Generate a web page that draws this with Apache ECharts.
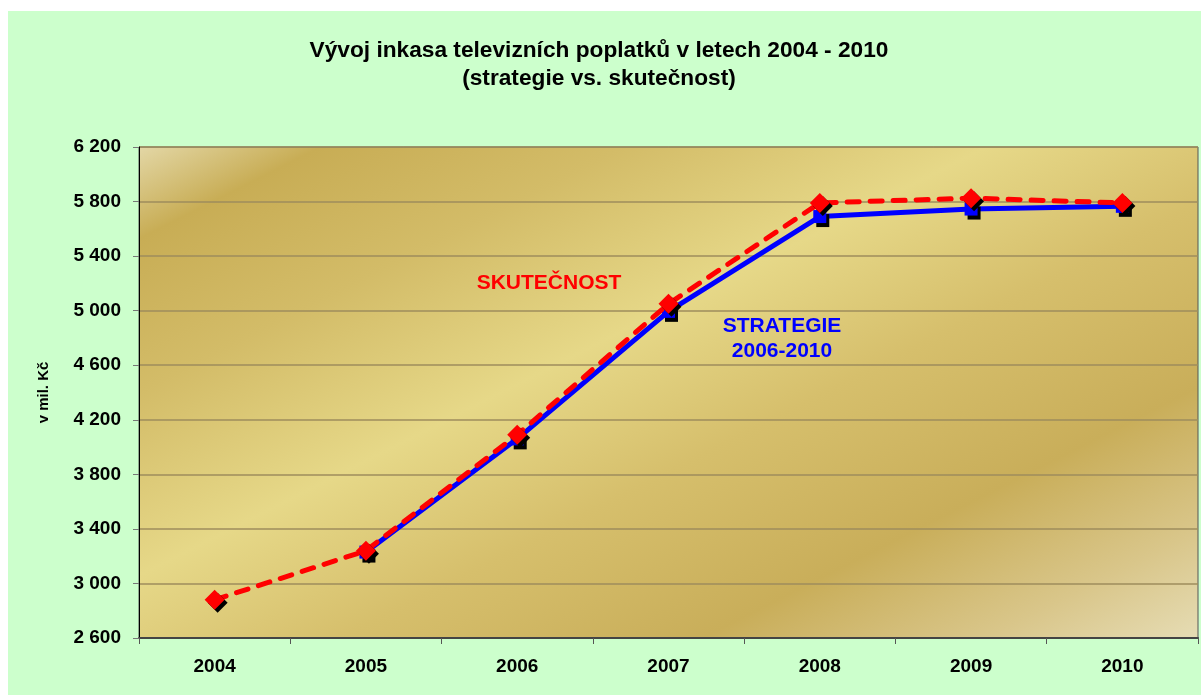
<!DOCTYPE html>
<html>
<head>
<meta charset="utf-8">
<script src="https://cdn.jsdelivr.net/npm/echarts@6/dist/echarts.min.js"></script>
<style>
  html, body { margin: 0; padding: 0; background: #ffffff; }
  #main { position: absolute; left: 8px; top: 11px; width: 1193px; height: 684px; background: #ccffcc; }
</style>
</head>
<body>
<div id="main"></div>
<script>
var years = ['2004', '2005', '2006', '2007', '2008', '2009', '2010'];
var skutecnost = [2880, 3240, 4090, 5050, 5790, 5825, 5790];
var strategie = ['-', 3230, 4060, 4995, 5690, 5745, 5765];
var yTicks = { min: 2600, max: 6200, step: 400 };

function fmt(v) {
  return String(v).replace(/\B(?=(\d{3})+(?!\d))/g, ' ');
}

var chart = echarts.init(document.getElementById('main'));
var option = {
  backgroundColor: '#ccffcc',
  animation: false,
  textStyle: { fontFamily: 'Liberation Sans, Arial, sans-serif' },
  title: {
    text: 'Vývoj inkasa televizních poplatků v letech 2004 - 2010\n(strategie vs. skutečnost)',
    left: 586,
    top: 21,
    textAlign: 'center',
    textStyle: { fontSize: 22.7, fontWeight: 'bold', color: '#000', lineHeight: 28 }
  },
  grid: {
    left: 131, right: 3, top: 136, bottom: 57,
    show: true,
    borderColor: '#555',
    borderWidth: 1,
    backgroundColor: {
      type: 'linear', x: 131, y: 136, x2: 542, y2: 949, global: true,
      colorStops: [
        { offset: 0, color: '#e3d7a6' },
        { offset: 0.09, color: '#c8ad55' },
        { offset: 0.24, color: '#d3bc68' },
        { offset: 0.42, color: '#e6d888' },
        { offset: 0.58, color: '#d6bf6c' },
        { offset: 0.76, color: '#c9ae5a' },
        { offset: 0.9, color: '#d9c68a' },
        { offset: 1, color: '#e5dbb2' }
      ]
    }
  },
  xAxis: {
    type: 'category',
    data: years,
    boundaryGap: true,
    axisLine: { lineStyle: { color: '#444', width: 2 } },
    axisTick: { show: true, length: 6, lineStyle: { color: '#555' } },
    axisLabel: { color: '#000', fontWeight: 'bold', fontSize: 19, margin: 19 }
  },
  yAxis: {
    type: 'value',
    min: yTicks.min,
    max: yTicks.max,
    interval: yTicks.step,
    name: 'v mil. Kč',
    nameLocation: 'middle',
    nameGap: 88,
    nameRotate: 90,
    nameTextStyle: { color: '#000', fontWeight: 'bold', fontSize: 15 },
    axisLine: { show: true, lineStyle: { color: '#000', width: 1 } },
    axisTick: { show: true, length: 6, inside: false, lineStyle: { color: '#777' } },
    axisLabel: { color: '#000', fontWeight: 'bold', fontSize: 19, margin: 18, formatter: fmt },
    splitLine: { lineStyle: { color: '#9e8c5c', width: 1.5 } }
  },
  series: [
    {
      name: 'STRATEGIE 2006-2010',
      type: 'line',
      data: strategie,
      symbol: 'rect',
      symbolSize: 13,
      lineStyle: { color: '#0000ff', width: 5 },
      itemStyle: { color: '#0000ff', shadowColor: '#000', shadowBlur: 0, shadowOffsetX: 3, shadowOffsetY: 4 },
      z: 2
    },
    {
      name: 'SKUTEČNOST',
      type: 'line',
      data: skutecnost,
      symbol: 'diamond',
      symbolSize: 20,
      lineStyle: { color: '#ff0000', width: 5, type: [12, 11], cap: 'round' },
      itemStyle: { color: '#ff0000', shadowColor: '#000', shadowBlur: 0, shadowOffsetX: 3, shadowOffsetY: 3 },
      z: 3
    }
  ],
  graphic: [
    {
      type: 'text', x: 541, y: 272,
      style: { text: 'SKUTEČNOST', fill: '#ff0000', align: 'center', verticalAlign: 'middle',
        font: 'bold 21px Liberation Sans, Arial, sans-serif' }
    },
    {
      type: 'text', x: 774, y: 303,
      style: { text: 'STRATEGIE\n2006-2010', fill: '#0000ff', align: 'center', lineHeight: 25,
        font: 'bold 21px Liberation Sans, Arial, sans-serif' }
    }
  ]
};
chart.setOption(option);
</script>
</body>
</html>
